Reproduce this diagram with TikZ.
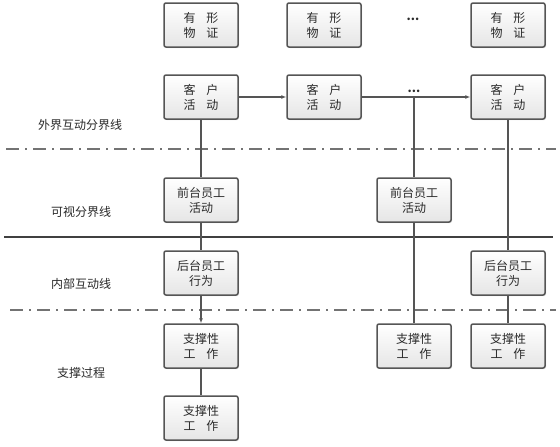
\documentclass[tikz,border=0pt]{standalone}
\usepackage{fontspec}
\setmainfont{Noto Sans CJK SC}
\usetikzlibrary{arrows.meta,shadows}
\definecolor{edge}{HTML}{555555}
\definecolor{txt}{HTML}{2a2a2a}
\begin{document}
\begin{tikzpicture}[x=1pt,y=-1pt,
  box/.style={draw=edge, line width=1.5pt, rounded corners=2pt,
    minimum width=74pt, minimum height=44pt, inner sep=1pt,
    top color=white, bottom color=black!10, text=txt,
    align=center, font=\fontsize{12}{15}\selectfont,
    drop shadow={shadow xshift=1pt, shadow yshift=-1pt, opacity=0.25}},
  conn/.style={draw=edge, line width=1.1pt},
  arr/.style={conn, -{Latex[length=5pt,width=4pt]}},
  sep/.style={draw=black!55, line width=1.6pt, dash pattern=on 13pt off 6pt on 2pt off 6pt},
  lbl/.style={text=txt, font=\fontsize{12}{14}\selectfont},
  dots/.style={text=txt, font=\fontsize{12}{12}\bfseries, inner sep=0pt}]
\useasboundingbox (0,0) rectangle (560,447);
\fill[white] (0,0) rectangle (560,447);
% separator lines
\coordinate (s1a) at (6,149); \coordinate (s1b) at (556,149);
\coordinate (s2a) at (4,237); \coordinate (s2b) at (553,237);
\coordinate (s3a) at (10,310); \coordinate (s3b) at (556,310);
\draw[sep] (s1a) -- (s1b);
\draw[draw=black!75, line width=2.6pt] (s2a) -- (s2b);
\draw[sep] (s3a) -- (s3b);
% labels
\node[lbl] (l1) at (80,125) {外界互动分界线};
\node[lbl] (l2) at (81,212) {可视分界线};
\node[lbl] (l3) at (81,284) {内部互动线};
\node[lbl] (l4) at (81,373) {支撑过程};
% top row
\node[box] (e1) at (201,25) {有\hspace{0.9em}形\\物\hspace{0.9em}证};
\node[box] (e2) at (324,25) {有\hspace{0.9em}形\\物\hspace{0.9em}证};
\node[dots] (ed) at (413,19) {...};
\node[box] (e4) at (508,25) {有\hspace{0.9em}形\\物\hspace{0.9em}证};
% customer row
\node[box] (c1) at (201,97) {客\hspace{0.9em}户\\活\hspace{0.9em}动};
\node[box] (c2) at (324,97) {客\hspace{0.9em}户\\活\hspace{0.9em}动};
\node[box] (c4) at (508,97) {客\hspace{0.9em}户\\活\hspace{0.9em}动};
% front
\node[box] (f1) at (201,200) {前台员工\\活动};
\node[box] (f3) at (414,200) {前台员工\\活动};
% back
\node[box] (b1) at (201,273) {后台员工\\行为};
\node[box] (b4) at (508,273) {后台员工\\行为};
% support
\node[box] (p1) at (201,346) {支撑性\\工\hspace{0.9em}作};
\node[box] (p3) at (414,346) {支撑性\\工\hspace{0.9em}作};
\node[box] (p4) at (508,346) {支撑性\\工\hspace{0.9em}作};
\node[box] (q1) at (201,418) {支撑性\\工\hspace{0.9em}作};
% connectors
\coordinate (j) at (414,97);
\draw[arr] (c1) -- (c2);
\draw[arr] (c2) -- (c4);
\node[dots] (cd) at (414,91) {...};
\draw[conn] (j) -- (f3);
\draw[conn] (f3) -- (p3);
\draw[conn] (c1) -- (f1);
\draw[conn] (f1) -- (b1);
\draw[arr] (b1) -- (p1);
\draw[conn] (p1) -- (q1);
\draw[conn] (c4) -- (b4);
\draw[conn] (b4) -- (p4);
\end{tikzpicture}
\end{document}
